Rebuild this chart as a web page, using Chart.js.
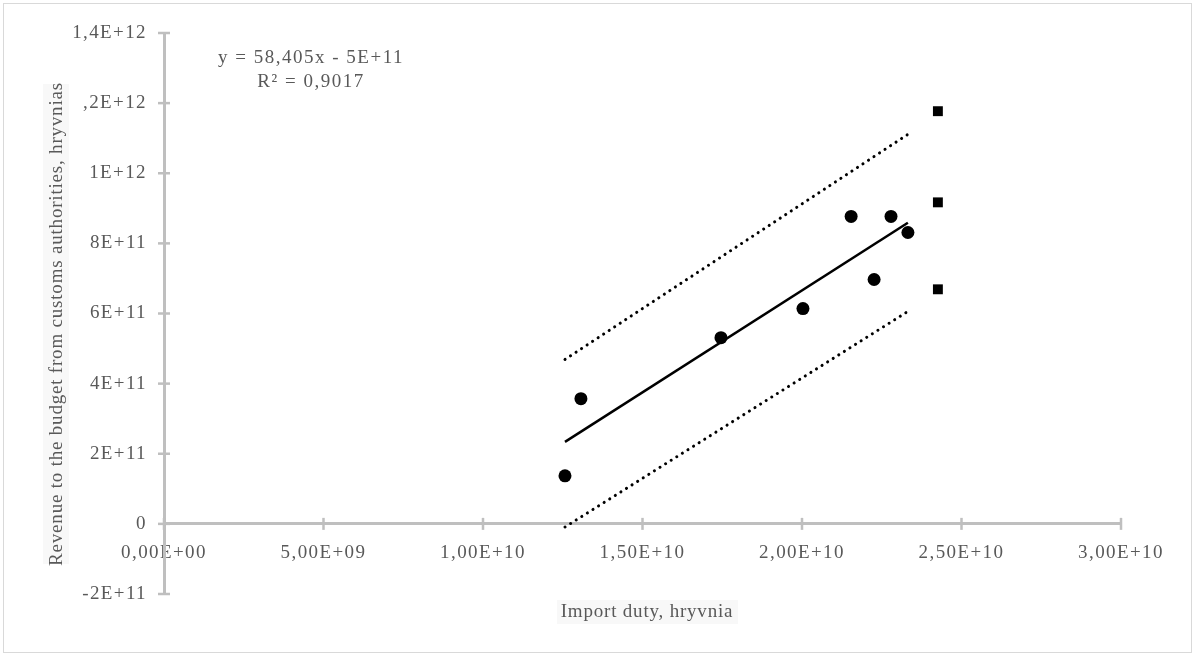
<!DOCTYPE html>
<html>
<head>
<meta charset="utf-8">
<script src="https://cdn.jsdelivr.net/npm/chart.js@4"></script>
<style>
html,body{margin:0;padding:0;background:#fff;}
#wrap{width:1195px;height:656px;position:relative;}
</style>
</head>
<body>
<div id="wrap"><canvas id="c" width="1195" height="656"></canvas></div>
<script>
// Data
const importDuty = [1.257e10, 1.307e10, 1.746e10, 2.003e10, 2.154e10, 2.226e10, 2.279e10, 2.332e10];
const revenue    = [1.37e11, 3.57e11, 5.31e11, 6.14e11, 8.77e11, 6.97e11, 8.77e11, 8.31e11];
const forecastX  = [2.426e10, 2.426e10, 2.426e10];
const forecastY  = [1.177e12, 9.17e11, 6.69e11];
const trendX     = [1.257e10, 2.332e10];
const trendY     = [2.34e11, 8.59e11];
const upperY     = [4.69e11, 1.111e12];
const lowerY     = [-0.9e10, 6.06e11];
const xTickValues = [0, 5e9, 1e10, 1.5e10, 2e10, 2.5e10, 3e10];
const xTickLabels = ["0,00E+00", "5,00E+09", "1,00E+10", "1,50E+10", "2,00E+10", "2,50E+10", "3,00E+10"];
const yTickValues = [-2e11, 0, 2e11, 4e11, 6e11, 8e11, 1e12, 1.2e12, 1.4e12];
const yTickLabels = ["-2E+11", "0", "2E+11", "4E+11", "6E+11", "8E+11", "1E+12", "1,2E+12", "1,4E+12"];
const equationLines = ["y = 58,405x - 5E+11", "R\u00B2 = 0,9017"];
const xTitle = "Import duty, hryvnia";
const yTitle = "Revenue to the budget from customs authorities, hryvnias";

const FONT = "'Liberation Serif', 'Times New Roman', serif";
const AXIS = "#bfbfbf";
const TXT = "#595959";

function pts(xs, ys){ return xs.map((x,i)=>({x:x, y:ys[i]})); }

function labelFor(values, labels, v){
  for (let i=0;i<values.length;i++){ if (Math.abs(values[i]-v) < Math.abs(v)*1e-6 + 1) return labels[i]; }
  return "";
}

const spacing = {
  id: 'spacing',
  beforeDraw(chart){ chart.ctx.letterSpacing = '1.4px'; }
};

const decor = {
  id: 'decor',
  afterDraw(chart){
    const ctx = chart.ctx;
    const xs = chart.scales.x, ys = chart.scales.y;
    ctx.save();
    // outer frame
    ctx.strokeStyle = "#d9d9d9"; ctx.lineWidth = 1;
    ctx.strokeRect(3.5, 3.5, 1188, 649);
    // tick marks crossing axes
    ctx.strokeStyle = AXIS; ctx.lineWidth = 2.5;
    const y0 = ys.getPixelForValue(0);
    const x0 = xs.getPixelForValue(0);
    xTickValues.forEach(v=>{
      const px = xs.getPixelForValue(v);
      ctx.beginPath(); ctx.moveTo(px, y0-6); ctx.lineTo(px, y0+6); ctx.stroke();
    });
    yTickValues.forEach(v=>{
      const py = ys.getPixelForValue(v);
      ctx.beginPath(); ctx.moveTo(x0-6, py); ctx.lineTo(x0+6, py); ctx.stroke();
    });
    // y title box (covers part of a tick label as in the reference)
    ctx.fillStyle = "#ffffff";
    ctx.fillRect(40, 82, 42, 482);
    ctx.fillStyle = "#f8f8f8";
    ctx.fillRect(43, 84, 26, 480);
    ctx.translate(57, 324);
    ctx.rotate(-Math.PI/2);
    ctx.fillStyle = TXT;
    ctx.font = "19px " + FONT;
    ctx.letterSpacing = '0.8px';
    ctx.textAlign = "center"; ctx.textBaseline = "middle";
    ctx.fillText(yTitle, 0, 0);
    ctx.restore();
    ctx.save();
    // x title
    ctx.fillStyle = "#f8f8f8";
    ctx.fillRect(557, 600, 181, 24);
    ctx.fillStyle = TXT;
    ctx.font = "19px " + FONT;
    ctx.letterSpacing = '0.8px';
    ctx.textAlign = "center"; ctx.textBaseline = "middle";
    ctx.fillText(xTitle, 647, 612);
    // equation
    ctx.letterSpacing = '1.5px';
    ctx.fillText(equationLines[0], 311, 58);
    ctx.fillText(equationLines[1], 311, 82);
    ctx.restore();
  }
};

new Chart(document.getElementById('c'), {
  type: 'scatter',
  data: {
    datasets: [
      { label: 'upper', data: pts(trendX, upperY), showLine: true, borderColor: '#000', borderWidth: 3,
        borderDash: [0.1, 6.5], borderCapStyle: 'round', pointRadius: 0, fill: false },
      { label: 'lower', data: pts(trendX, lowerY), showLine: true, borderColor: '#000', borderWidth: 3,
        borderDash: [0.1, 6.5], borderCapStyle: 'round', pointRadius: 0, fill: false },
      { label: 'trend', data: pts(trendX, trendY), showLine: true, borderColor: '#000', borderWidth: 2.5,
        pointRadius: 0, fill: false },
      { label: 'actual', data: pts(importDuty, revenue), backgroundColor: '#000', borderColor: '#000',
        pointStyle: 'circle', pointRadius: 6.5, borderWidth: 0 },
      { label: 'forecast', data: pts(forecastX, forecastY), backgroundColor: '#000', borderColor: '#000',
        pointStyle: 'rect', pointRadius: 7, borderWidth: 0 }
    ]
  },
  options: {
    responsive: false,
    animation: false,
    devicePixelRatio: 1,
    layout: { padding: { left: 0, top: 33, right: 74, bottom: 62 } },
    plugins: { legend: { display: false }, tooltip: { enabled: false } },
    scales: {
      x: {
        type: 'linear', min: 0, max: 3e10,
        position: { y: 0 },
        afterBuildTicks(s){ s.ticks = xTickValues.map(v=>({value:v})); },
        grid: { display: false, drawTicks: false },
        border: { display: true, color: AXIS, width: 3 },
        ticks: { padding: 18, color: TXT, font: { family: FONT, size: 19 }, maxRotation: 0,
          callback: (v)=>labelFor(xTickValues, xTickLabels, v) }
      },
      y: {
        type: 'linear', min: -2e11, max: 1.4e12,
        position: 'left',
        afterFit(s){ s.width = 164; },
        afterBuildTicks(s){ s.ticks = yTickValues.map(v=>({value:v})); },
        grid: { display: false, drawTicks: false },
        border: { display: true, color: AXIS, width: 3 },
        ticks: { padding: 17, color: TXT, font: { family: FONT, size: 19 },
          callback: (v)=>labelFor(yTickValues, yTickLabels, v) }
      }
    }
  },
  plugins: [spacing, decor]
});
</script>
</body>
</html>
